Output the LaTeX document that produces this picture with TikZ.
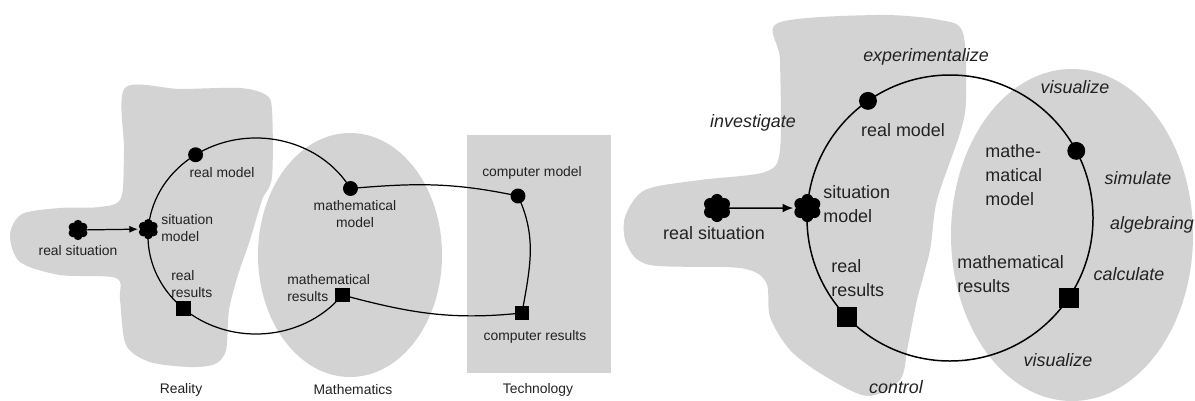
\documentclass[tikz,border=0pt]{standalone}
\usepackage{fontspec}
\setmainfont{Liberation Sans}
\usetikzlibrary{arrows.meta}
\definecolor{fond}{HTML}{D3D3D3}
\definecolor{texte}{HTML}{222222}

\begin{document}
\begin{tikzpicture}[x=0.02cm,y=0.02cm]
\tikzstyle{zone} = [fill=fond,draw=none];
\tikzstyle{rond} = [fill,circle,inner sep=0pt,minimum size=8.5pt];
\tikzstyle{carre} = [fill,rectangle,inner sep=0pt,minimum size=8.5pt];
\tikzstyle{fleur} = [fill,circle,inner sep=0pt,minimum size=8pt];
\tikzstyle{petit} = [font=\fontsize{7.9}{9.6}\selectfont,text=texte,align=left,inner sep=0pt];
\tikzstyle{grand} = [font=\fontsize{10.2}{13.6}\selectfont,text=texte,align=left,inner sep=0pt];
\tikzstyle{verbe} = [grand,font=\fontsize{10.2}{13.6}\selectfont\itshape];

\useasboundingbox (0,0) rectangle (1195,400);

% left: reality, mathematics, technology
\fill[zone] plot[smooth cycle] coordinates {(125,312) (180,311) (240,312) (266,305) (272,290) (272,223) (262,200) (250,160) (238,125) (229,90) (226,50) (215,36) (190,33) (150,38) (126,55) (120,100) (116,122) (60,125) (20,138) (10,165) (22,186) (60,192) (100,193) (121,202) (124,250)};
\fill[zone] (350,145) ellipse[x radius=92,y radius=122];
\fill[zone] (467,27) rectangle (611,265);

\coordinate (lc) at (256,164);
\path (lc) ++(29:108 and 98) node[rond] (lmm) {};
\path (lc) ++(124:108 and 98) node[rond] (lrm) {};
\path (lc) ++(176:108 and 98) node[fleur] (lsm) {};
\path (lc) ++(228:108 and 98) node[carre] (lrr) {};
\path (lc) ++(-37:108 and 98) node[carre] (lmr) {};
\node[fleur] (lrs) at (78,170) {};
\node[rond] (lcm) at (518,204) {};
\node[carre] (lcr) at (522,87) {};
\foreach \n in {lrs,lsm}{
	\foreach \a in {30,90,...,330}
		\fill (\n.center) ++(\a:3.3pt) circle[radius=2.5pt];
}

\draw[line width=0.7pt] (lmm.center) arc[start angle=29,end angle=323,x radius=108,y radius=98];
\draw[line width=0.7pt] (lmm.center) to[out=5,in=168] (lcm.center);
\draw[line width=0.7pt] (lcm.center) to[out=-65,in=80] (lcr.center);
\draw[line width=0.7pt] (lcr.center) to[out=186,in=-15] (lmr.center);
\draw[line width=0.7pt,-{Latex[length=5pt,width=4pt]}] (lrs) -- ([xshift=-1.6pt]lsm.west);

\node[petit] (trm) at (222,227) {real model};
\node[petit,anchor=west] (tsm) at (161,172) {situation\\model};
\node[petit] (trs) at (78,149) {real situation};
\node[petit,anchor=west] (trr) at (171,116) {real\\results};
\node[petit,align=center] (tmm) at (355,186) {mathematical\\model};
\node[petit,anchor=west] (tmr) at (287,112) {mathematical\\results};
\node[petit] (tcm) at (532,227) {computer model};
\node[petit] (tcr) at (535,63) {computer results};
\node[petit] (treal) at (181,10) {Reality};
\node[petit] (tmath) at (353,10) {Mathematics};
\node[petit] (ttech) at (538,10) {Technology};

% right: one cycle with the verbs
\fill[zone] plot[smooth cycle] coordinates {(778,377) (877,385) (940,380) (963,367) (966,300) (960,267) (937,200) (930,150) (917,100) (908,55) (900,20) (867,4) (823,25) (790,50) (770,83) (766,118) (740,132) (650,135) (627,155) (625,183) (645,210) (700,220) (765,228) (780,250) (780,340)};
\fill[zone] (1072,165) ellipse[x radius=121,y radius=166];

\coordinate (rc) at (950,182);
\draw[line width=0.85pt] (rc) circle[radius=143];
\begin{scope}[rond/.append style={minimum size=10.2pt},carre/.append style={minimum size=11.3pt},fleur/.append style={minimum size=11pt}]
\path (rc) ++(125:143) node[rond] (rrm) {};
\path (rc) ++(176:143) node[fleur] (rsm) {};
\path (rc) ++(224:143) node[carre] (rrr) {};
\path (rc) ++(28:143) node[rond] (rmm) {};
\path (rc) ++(-34:143) node[carre] (rmr) {};
\node[fleur] (rrs) at (717,192) {};
\end{scope}
\foreach \n in {rrs,rsm}{
	\foreach \a in {30,90,...,330}
		\fill (\n.center) ++(\a:4.6pt) circle[radius=3.4pt];
}
\draw[line width=0.85pt,-{Latex[length=6pt,width=5pt]}] (rrs) -- ([xshift=-2.4pt]rsm.west);

\node[grand] (urm) at (903,270) {real model};
\node[grand,anchor=west] (usm) at (823,196) {situation\\model};
\node[grand] (urs) at (714,167) {real situation};
\node[grand,anchor=west] (urr) at (831,122) {real\\results};
\node[grand,anchor=west] (umm) at (985,225) {mathe-\\matical\\model};
\node[grand,anchor=west] (umr) at (957,126) {mathematical\\results};

\foreach \x/\y/\mot in {926/343/experimentalize,753/277/investigate,1075/313/visualize,1138/222/simulate,1152/175/algebraing,1129/126/calculate,1058/40/visualize,896/13/control}{
	\node[verbe] at (\x,\y) {\mot};
}

\end{tikzpicture}
\end{document}
